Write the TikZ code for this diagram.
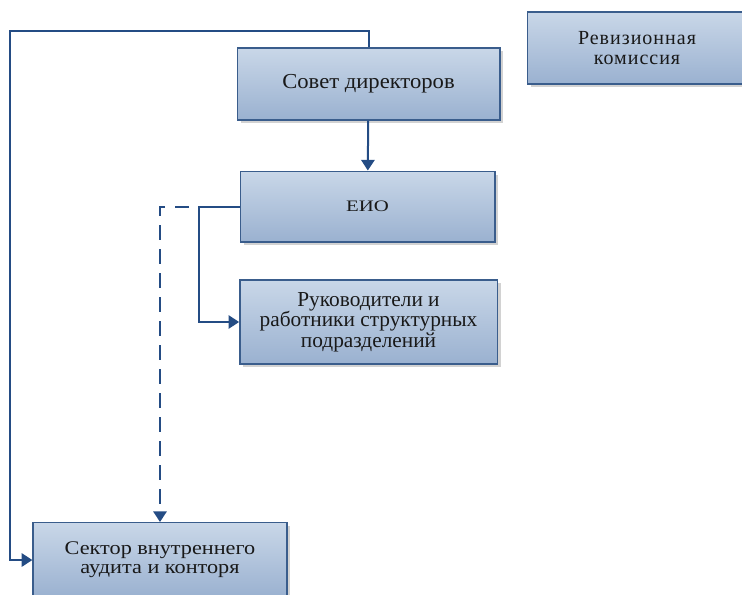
\documentclass[tikz,border=0pt]{standalone}
\usepackage{fontspec}
\setmainfont{Liberation Serif}
\newfontfamily\slightfont[FakeStretch=1.06]{Liberation Serif}
\newfontfamily\widefont[FakeStretch=1.3]{Liberation Serif}
\newfontfamily\wideishfont[FakeStretch=1.15]{Liberation Serif}
\newfontfamily\spacedfont[LetterSpace=5]{Liberation Serif}
\usetikzlibrary{shadows,arrows.meta}
\definecolor{boxtop}{HTML}{C9D7E8}
\definecolor{boxbot}{HTML}{9AB1D0}
\definecolor{boxline}{HTML}{3A5D8C}
\definecolor{linkblue}{HTML}{244C84}
\tikzset{
  font={\fontsize{12pt}{15pt}\selectfont}}
\tikzset{
  unit/.style={draw=boxline, line width=1pt, top color=boxtop, bottom color=boxbot,
    drop shadow={shadow xshift=2.5pt, shadow yshift=-2.5pt, fill=black!35},
    align=center, text=black!90},
  link/.style={draw=linkblue, line width=1.5pt, -{Triangle[length=8pt,width=10pt]}}}

\begin{document}
\begin{tikzpicture}[x=0.75pt,y=-0.75pt]
\tikzstyle{every node}+=[inner sep=0pt]
\useasboundingbox (0,0) rectangle (742,594);
\node [unit, minimum width=197pt, minimum height=54pt,
  font=\slightfont\fontsize{16pt}{16pt}\selectfont] (sovet) at (368.5,84) {Совет директоров};
\node [unit, minimum width=164pt, minimum height=54pt,
  font=\spacedfont\fontsize{15pt}{15pt}\selectfont] (revizia) at (637,48) {Ревизионная\\комиссия};
\node [unit, minimum width=191pt, minimum height=53pt,
  font=\widefont\fontsize{12pt}{15pt}\selectfont] (eio) at (367.5,206.5) {ЕИО};
\node [unit, minimum width=193pt, minimum height=63pt,
  font=\fontsize{16pt}{15.5pt}\selectfont] (ruk) at (368.5,322) {Руководители и\\работники структурных\\подразделений};
\node [unit, minimum width=190.5pt, minimum height=56pt,
  font=\wideishfont\fontsize{14.5pt}{14.5pt}\selectfont] (sektor) at (160,560) {Сектор внутреннего\\аудита и конторя};
\coordinate (loop) at (10,31);
\draw [link] (sovet) -- (eio);
\draw [link] (sovet.north) |- (loop) |- (sektor.west);
\draw [link] (eio.west) -- ++(-41,0) coordinate (fork) |- (ruk.west);
\draw [link, dash pattern=on 11pt off 7pt, dash phase=11pt] (fork) -| (sektor.north);
\end{tikzpicture}
\end{document}
